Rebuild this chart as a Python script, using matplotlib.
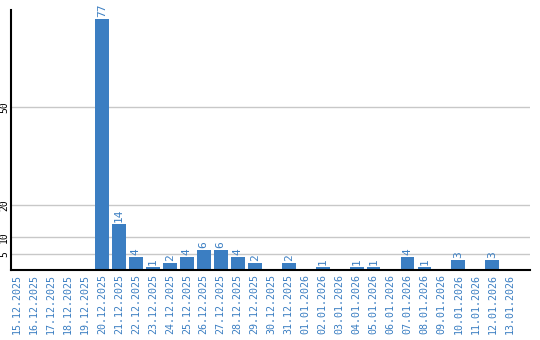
import matplotlib
matplotlib.use("Agg")
import matplotlib.pyplot as plt

dates = ["15.12.2025", "16.12.2025", "17.12.2025", "18.12.2025", "19.12.2025",
         "20.12.2025", "21.12.2025", "22.12.2025", "23.12.2025", "24.12.2025",
         "25.12.2025", "26.12.2025", "27.12.2025", "28.12.2025", "29.12.2025",
         "30.12.2025", "31.12.2025", "01.01.2026", "02.01.2026", "03.01.2026",
         "04.01.2026", "05.01.2026", "06.01.2026", "07.01.2026", "08.01.2026",
         "09.01.2026", "10.01.2026", "11.01.2026", "12.01.2026", "13.01.2026"]
values = [0, 0, 0, 0, 0, 77, 14, 4, 1, 2, 4, 6, 6, 4, 2, 0, 2, 0, 1, 0,
          1, 1, 0, 4, 1, 0, 3, 0, 3, 0]
yticks = [5, 10, 20, 50]

blue = "#3b7ec2"
fig = plt.figure(figsize=(5.4, 3.4), dpi=100)
ax = fig.add_axes([0.0204, 0.206, 0.9606, 0.765])
x = list(range(len(dates)))
ax.bar(x, values, width=0.82, color=blue, zorder=3)
for xi, v in zip(x, values):
    if v > 0:
        ax.text(xi, v + 0.6, str(v), rotation=90, ha="center", va="bottom",
                color=blue, fontsize=8, family="DejaVu Sans Mono")
ax.set_xlim(-0.35, 30.2)
ax.set_ylim(0, 79.8)
ax.set_yticks(yticks)
ax.set_yticklabels([str(t) for t in yticks], rotation=90, va="center",
                   fontsize=7, family="DejaVu Sans Mono", color="black")
ax.set_xticks(x)
ax.set_xticklabels(dates, rotation=90, fontsize=7.2, family="DejaVu Sans Mono",
                   color=blue, va="top")
ax.tick_params(axis="both", length=0, pad=3)
ax.tick_params(axis="y", pad=1.5)
ax.grid(axis="y", color="#c8c8c8", linewidth=1, zorder=0)
for s in ["top", "right"]:
    ax.spines[s].set_visible(False)
for s in ["left", "bottom"]:
    ax.spines[s].set_linewidth(1.5)
    ax.spines[s].set_color("black")
    ax.spines[s].set_zorder(4)
fig.savefig("out.png", dpi=100)
